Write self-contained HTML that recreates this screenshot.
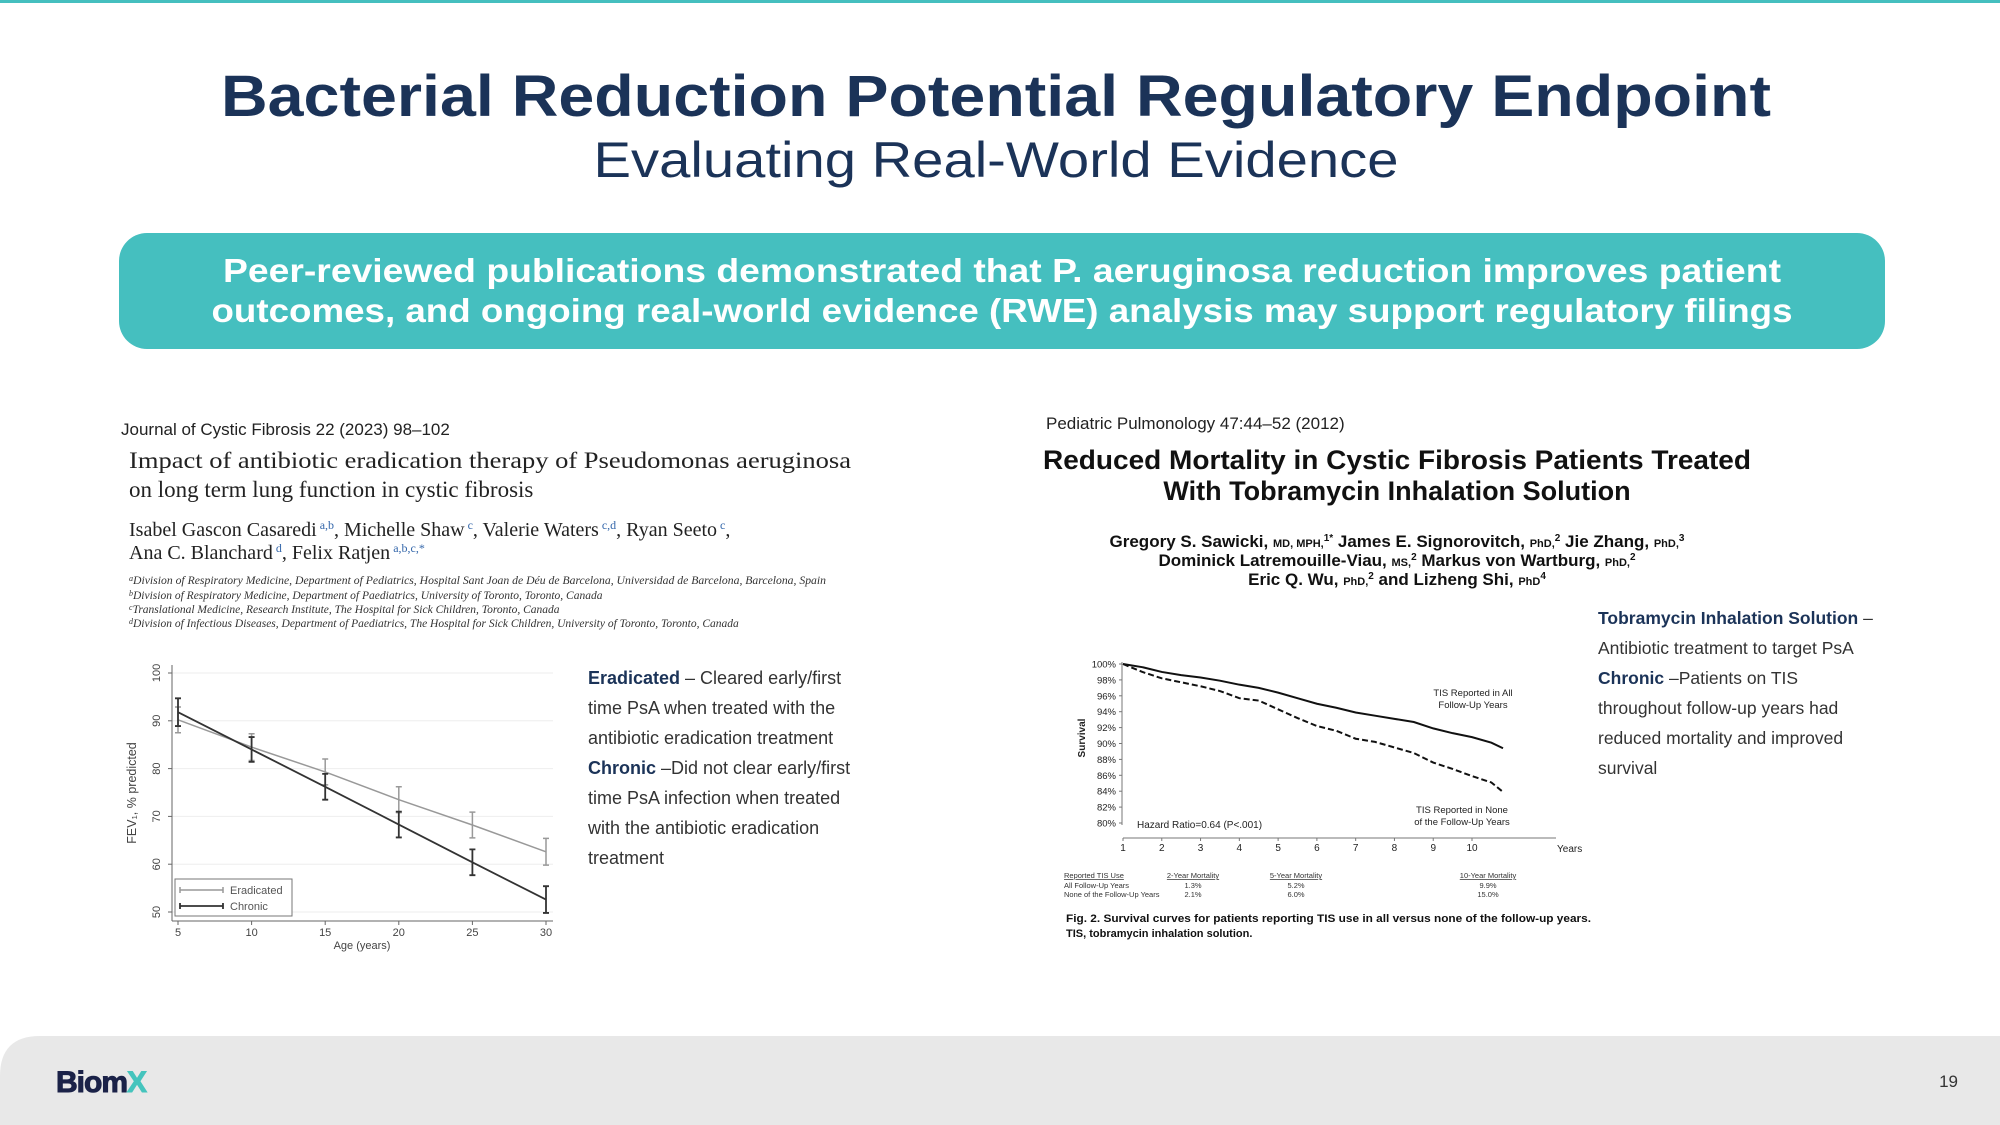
<!DOCTYPE html>
<html><head><meta charset="utf-8"><style>
html,body{margin:0;padding:0;background:#fff}
svg{display:block}
text{font-family:"Liberation Sans",sans-serif}
.serif{font-family:"Liberation Serif",serif}
</style></head><body>
<svg id="page" width="2000" height="1125" viewBox="0 0 2000 1125" xmlns="http://www.w3.org/2000/svg">
<rect x="0" y="0" width="2000" height="3" fill="#45bfbf"/>
<text x="996" y="116" text-anchor="middle" font-size="58" font-weight="bold" fill="#1b3358" textLength="1550" lengthAdjust="spacingAndGlyphs">Bacterial Reduction Potential Regulatory Endpoint</text>
<text x="996" y="177" text-anchor="middle" font-size="50" fill="#1b3358" textLength="805" lengthAdjust="spacingAndGlyphs">Evaluating Real-World Evidence</text>
<rect x="119" y="233" width="1766" height="116" rx="28" fill="#45bfbf"/>
<text x="1002" y="282" text-anchor="middle" font-size="33" font-weight="bold" fill="#fff" textLength="1558" lengthAdjust="spacingAndGlyphs">Peer-reviewed publications demonstrated that P. aeruginosa reduction improves patient</text>
<text x="1002" y="322" text-anchor="middle" font-size="33" font-weight="bold" fill="#fff" textLength="1581" lengthAdjust="spacingAndGlyphs">outcomes, and ongoing real-world evidence (RWE) analysis may support regulatory filings</text>

<!-- left paper -->
<g>
<text x="121" y="435" font-size="17" fill="#222">Journal of Cystic Fibrosis 22 (2023) 98–102</text>
<text class="serif" x="129" y="468" font-size="23" fill="#222" textLength="722" lengthAdjust="spacingAndGlyphs">Impact of antibiotic eradication therapy of Pseudomonas aeruginosa</text>
<text class="serif" x="129" y="497" font-size="23" fill="#222">on long term lung function in cystic fibrosis</text>
<text class="serif" x="129" y="536" font-size="20" fill="#222">Isabel Gascon Casaredi<tspan font-size="12" dy="-7" fill="#3366aa"> a,b</tspan><tspan dy="7">, Michelle Shaw</tspan><tspan font-size="12" dy="-7" fill="#3366aa"> c</tspan><tspan dy="7">, Valerie Waters</tspan><tspan font-size="12" dy="-7" fill="#3366aa"> c,d</tspan><tspan dy="7">, Ryan Seeto</tspan><tspan font-size="12" dy="-7" fill="#3366aa"> c</tspan><tspan dy="7">,</tspan></text>
<text class="serif" x="129" y="559" font-size="20" fill="#222">Ana C. Blanchard<tspan font-size="12" dy="-7" fill="#3366aa"> d</tspan><tspan dy="7">, Felix Ratjen</tspan><tspan font-size="12" dy="-7" fill="#3366aa"> a,b,c,*</tspan></text>
<g class="serif" font-size="11.5" font-style="italic" fill="#333">
<text class="serif" x="129" y="584" textLength="697" lengthAdjust="spacingAndGlyphs"><tspan font-size="8" dy="-3">a</tspan><tspan dy="3">Division of Respiratory Medicine, Department of Pediatrics, Hospital Sant Joan de Déu de Barcelona, Universidad de Barcelona, Barcelona, Spain</tspan></text>
<text class="serif" x="129" y="599"><tspan font-size="8" dy="-3">b</tspan><tspan dy="3">Division of Respiratory Medicine, Department of Paediatrics, University of Toronto, Toronto, Canada</tspan></text>
<text class="serif" x="129" y="613"><tspan font-size="8" dy="-3">c</tspan><tspan dy="3">Translational Medicine, Research Institute, The Hospital for Sick Children, Toronto, Canada</tspan></text>
<text class="serif" x="129" y="627"><tspan font-size="8" dy="-3">d</tspan><tspan dy="3">Division of Infectious Diseases, Department of Paediatrics, The Hospital for Sick Children, University of Toronto, Toronto, Canada</tspan></text>
</g>
</g>
<g id="fevChart"></g>

<g font-size="18" fill="#333">
<text x="588" y="684"><tspan font-weight="bold" fill="#1b3358">Eradicated</tspan> – Cleared early/first</text>
<text x="588" y="714">time PsA when treated with the</text>
<text x="588" y="744">antibiotic eradication treatment</text>
<text x="588" y="774"><tspan font-weight="bold" fill="#1b3358">Chronic</tspan> –Did not clear early/first</text>
<text x="588" y="804">time PsA infection when treated</text>
<text x="588" y="834">with the antibiotic eradication</text>
<text x="588" y="864">treatment</text>
</g>

<!-- right paper -->
<g>
<text x="1046" y="429" font-size="17" fill="#222">Pediatric Pulmonology 47:44–52 (2012)</text>
<text x="1397" y="469" text-anchor="middle" font-size="27" font-weight="bold" fill="#111" textLength="708" lengthAdjust="spacingAndGlyphs">Reduced Mortality in Cystic Fibrosis Patients Treated</text>
<text x="1397" y="500" text-anchor="middle" font-size="27" font-weight="bold" fill="#111">With Tobramycin Inhalation Solution</text>
<g font-size="17" font-weight="bold" fill="#111" text-anchor="middle">
<text x="1397" y="547">Gregory S. Sawicki, <tspan font-size="11">MD, MPH,</tspan><tspan font-size="10" dy="-6">1*</tspan><tspan dy="6"> James E. Signorovitch, </tspan><tspan font-size="11">PhD,</tspan><tspan font-size="10" dy="-6">2</tspan><tspan dy="6"> Jie Zhang, </tspan><tspan font-size="11">PhD,</tspan><tspan font-size="10" dy="-6">3</tspan></text>
<text x="1397" y="566">Dominick Latremouille-Viau, <tspan font-size="11">MS,</tspan><tspan font-size="10" dy="-6">2</tspan><tspan dy="6"> Markus von Wartburg, </tspan><tspan font-size="11">PhD,</tspan><tspan font-size="10" dy="-6">2</tspan></text>
<text x="1397" y="585">Eric Q. Wu, <tspan font-size="11">PhD,</tspan><tspan font-size="10" dy="-6">2</tspan><tspan dy="6"> and Lizheng Shi, </tspan><tspan font-size="11">PhD</tspan><tspan font-size="10" dy="-6">4</tspan></text>
</g>
</g>
<g id="survChart"></g>

<g font-size="17.5" fill="#333">
<text x="1598" y="624"><tspan font-weight="bold" fill="#1b3358">Tobramycin Inhalation Solution</tspan> –</text>
<text x="1598" y="654">Antibiotic treatment to target PsA</text>
<text x="1598" y="684"><tspan font-weight="bold" fill="#1b3358">Chronic</tspan> –Patients on TIS</text>
<text x="1598" y="714">throughout follow-up years had</text>
<text x="1598" y="744">reduced mortality and improved</text>
<text x="1598" y="774">survival</text>
</g>

<!-- footer -->
<path d="M0 1125 L0 1076 Q0 1036 40 1036 L2000 1036 L2000 1125 Z" fill="#e8e8e8"/>
<text x="56" y="1092" font-size="30" font-weight="bold" fill="#1b2248" stroke="#1b2248" stroke-width="1" letter-spacing="-1">Biom<tspan fill="#45c4bd" stroke="#45c4bd">X</tspan></text>
<text x="1958" y="1087" font-size="17" fill="#333" text-anchor="end">19</text>
</svg>
<script>
// ---- FEV chart data ----
const fevAges = [5, 10, 15, 20, 25, 30];
const eradicatedMean = [90.2, 84.5, 79.3, 73.5, 68.2, 62.6];
const eradicatedErr = [2.7, 2.8, 2.7, 2.7, 2.7, 2.8];
const chronicMean = [91.8, 84.0, 76.2, 68.3, 60.4, 52.6];
const chronicErr = [2.9, 2.6, 2.7, 2.7, 2.7, 2.8];
const fevYTicks = [50, 60, 70, 80, 90, 100];
const fevXTicks = [5, 10, 15, 20, 25, 30];
// ---- Survival chart data ----
const survYearsAll = [1, 1.5, 2, 2.5, 3, 3.5, 4, 4.5, 5, 5.5, 6, 6.5, 7, 7.5, 8, 8.5, 9, 9.5, 10, 10.5, 10.8];
const survAll = [100, 99.6, 99.0, 98.6, 98.3, 97.9, 97.4, 97.0, 96.4, 95.7, 95.0, 94.5, 93.9, 93.5, 93.1, 92.7, 91.9, 91.3, 90.8, 90.1, 89.4];
const survNone = [100, 99.0, 98.2, 97.7, 97.2, 96.6, 95.7, 95.4, 94.3, 93.2, 92.2, 91.6, 90.6, 90.2, 89.5, 88.8, 87.6, 86.8, 85.9, 85.1, 83.9];
const survYTicks = [80, 82, 84, 86, 88, 90, 92, 94, 96, 98, 100];
const survXTicks = [1, 2, 3, 4, 5, 6, 7, 8, 9, 10];
const mortHeaders = ["Reported TIS Use", "2-Year Mortality", "5-Year Mortality", "10-Year Mortality"];
const mortAll = ["All Follow-Up Years", "1.3%", "5.2%", "9.9%"];
const mortNone = ["None of the Follow-Up Years", "2.1%", "6.0%", "15.0%"];

const NS = "http://www.w3.org/2000/svg";
function mk(parent, tag, attrs, txt) {
  const e = document.createElementNS(NS, tag);
  for (const k in attrs) e.setAttribute(k, attrs[k]);
  if (txt !== undefined) e.textContent = txt;
  parent.appendChild(e);
  return e;
}

// FEV chart
(function () {
  const g = document.getElementById('fevChart');
  const fx = a => 178 + (a - 5) * (546 - 178) / 25;
  const fy = v => 912 - (v - 50) * (912 - 673) / 50;
  fevYTicks.forEach(t => {
    const gl = mk(g, 'line', {x1: 172, x2: 553, y1: fy(t), y2: fy(t), stroke: '#eeeeee', 'stroke-width': 1});
    
    
    mk(g, 'line', {x1: 168, x2: 172, y1: fy(t), y2: fy(t), stroke: '#666'});
    const lb = mk(g, 'text', {x: 0, y: 0, 'font-size': 11, fill: '#444', 'text-anchor': 'middle', transform: `translate(160 ${fy(t)}) rotate(-90)`}, String(t));
    
    
  });
  mk(g, 'line', {x1: 172, x2: 172, y1: 665, y2: 921, stroke: '#666'});
  mk(g, 'line', {x1: 172, x2: 553, y1: 921, y2: 921, stroke: '#666'});
  fevXTicks.forEach(t => {
    mk(g, 'line', {x1: fx(t), x2: fx(t), y1: 921, y2: 925, stroke: '#666'});
    const lb = mk(g, 'text', {x: fx(t), y: 936, 'font-size': 11, fill: '#444', 'text-anchor': 'middle'}, String(t));
    
    
  });
  const xt = mk(g, 'text', {x: 362, y: 949, 'font-size': 11, fill: '#444', 'text-anchor': 'middle'}, 'Age (years)');
  
  
  const yt = mk(g, 'text', {x: 0, y: 0, 'font-size': 12.5, fill: '#444', 'text-anchor': 'middle', transform: 'translate(136 793) rotate(-90)'}, 'FEV₁, % predicted');
  
  
  function series(mean, err, color, w, name) {
    const pl = mk(g, 'polyline', {points: fevAges.map((a, i) => fx(a) + ',' + fy(mean[i])).join(' '), fill: 'none', stroke: color, 'stroke-width': w});
    
    
    fevAges.forEach((a, i) => {
      const x = fx(a), y1 = fy(mean[i] + err[i]), y2 = fy(mean[i] - err[i]);
      const eb = mk(g, 'path', {d: `M${x} ${y1}V${y2}M${x - 3} ${y1}H${x + 3}M${x - 3} ${y2}H${x + 3}`, stroke: color, 'stroke-width': w, fill: 'none'});
      
      
    });
  }
  series(eradicatedMean, eradicatedErr, '#999999', 1.5, 'eradicated');
  series(chronicMean, chronicErr, '#333333', 1.8, 'chronic');
  const lg = mk(g, 'g', {});
  
  
  mk(lg, 'rect', {x: 175, y: 879, width: 117, height: 37, fill: '#fff', stroke: '#777'});
  mk(lg, 'path', {d: 'M180 890H223M180 887V893M223 887V893', stroke: '#999', 'stroke-width': 1.5});
  mk(lg, 'path', {d: 'M180 906H223M180 903V909M223 903V909', stroke: '#333', 'stroke-width': 1.8});
  mk(lg, 'text', {x: 230, y: 894, 'font-size': 11, fill: '#555'}, 'Eradicated');
  mk(lg, 'text', {x: 230, y: 910, 'font-size': 11, fill: '#555'}, 'Chronic');
})();

// Survival chart
(function () {
  const g = document.getElementById('survChart');
  const sx = yr => 1123 + (yr - 1) * (1472 - 1123) / 9;
  const sy = v => 823 - (v - 80) * (823 - 664) / 20;
  mk(g, 'line', {x1: 1122, x2: 1122, y1: 662, y2: 825, stroke: '#777'});
  survYTicks.forEach(t => {
    mk(g, 'line', {x1: 1119, x2: 1122, y1: sy(t), y2: sy(t), stroke: '#777'});
    const lb = mk(g, 'text', {x: 1116, y: sy(t) + 3.5, 'font-size': 9.5, fill: '#222', 'text-anchor': 'end'}, t + '%');
    
    
  });
  mk(g, 'line', {x1: 1123, x2: 1556, y1: 838, y2: 838, stroke: '#777'});
  survXTicks.forEach(t => {
    mk(g, 'line', {x1: sx(t), x2: sx(t), y1: 838, y2: 841, stroke: '#777'});
    const lb = mk(g, 'text', {x: sx(t), y: 851, 'font-size': 10, fill: '#222', 'text-anchor': 'middle'}, String(t));
    
    
  });
  const yr = mk(g, 'text', {x: 1557, y: 852, 'font-size': 10, fill: '#222'}, 'Years');
  
  
  const st = mk(g, 'text', {x: 0, y: 0, 'font-size': 10, 'font-weight': 'bold', fill: '#222', 'text-anchor': 'middle', transform: 'translate(1085 738) rotate(-90)'}, 'Survival');
  
  
  const l1 = mk(g, 'polyline', {points: survYearsAll.map((y, i) => sx(y) + ',' + sy(survAll[i])).join(' '), fill: 'none', stroke: '#111', 'stroke-width': 2});
  
  
  const l2 = mk(g, 'polyline', {points: survYearsAll.map((y, i) => sx(y) + ',' + sy(survNone[i])).join(' '), fill: 'none', stroke: '#111', 'stroke-width': 2, 'stroke-dasharray': '6 3'});
  
  
  const ann = [['TIS Reported in All', 1473, 696], ['Follow-Up Years', 1473, 708], ['TIS Reported in None', 1462, 813], ['of the Follow-Up Years', 1462, 825]];
  ann.forEach(a => {
    const t = mk(g, 'text', {x: a[1], y: a[2], 'font-size': 9.5, fill: '#222', 'text-anchor': 'middle'}, a[0]);
    
    
  });
  const hr = mk(g, 'text', {x: 1137, y: 828, 'font-size': 10, fill: '#222'}, 'Hazard Ratio=0.64 (P<.001)');
  
  
  const colX = [1064, 1193, 1296, 1488];
  const anchors = ['start', 'middle', 'middle', 'middle'];
  [[mortHeaders, 878], [mortAll, 888], [mortNone, 897]].forEach((row, ri) => {
    row[0].forEach((c, ci) => {
      const t = mk(g, 'text', {x: colX[ci], y: row[1], 'font-size': 7.5, fill: '#333', 'text-anchor': anchors[ci], 'text-decoration': ri === 0 ? 'underline' : 'none'}, c);
      
      
    });
  });
  const c1 = mk(g, 'text', {x: 1066, y: 922, 'font-size': 11, 'font-weight': 'bold', fill: '#111', textLength: 525, lengthAdjust: 'spacingAndGlyphs'}, 'Fig. 2.  Survival curves for patients reporting TIS use in all versus none of the follow-up years.');
  
  
  const c2 = mk(g, 'text', {x: 1066, y: 937, 'font-size': 11, 'font-weight': 'bold', fill: '#111'}, 'TIS, tobramycin inhalation solution.');
  
  
})();
</script>
</body></html>
